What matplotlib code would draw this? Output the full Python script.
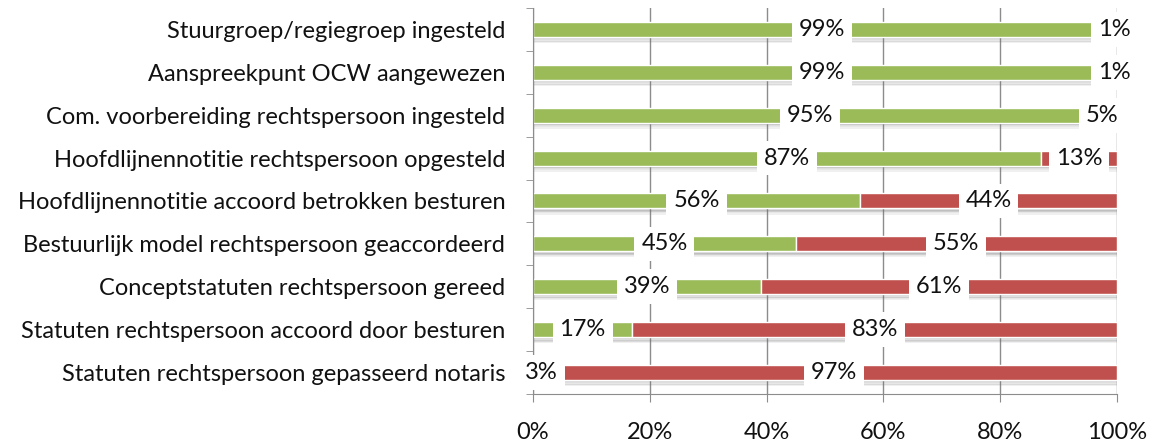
import numpy as np
import matplotlib
matplotlib.use("Agg")
import matplotlib.pyplot as plt

categories = [
    "Stuurgroep/regiegroep ingesteld",
    "Aanspreekpunt OCW aangewezen",
    "Com. voorbereiding rechtspersoon ingesteld",
    "Hoofdlijnennotitie rechtspersoon opgesteld",
    "Hoofdlijnennotitie accoord betrokken besturen",
    "Bestuurlijk model rechtspersoon geaccordeerd",
    "Conceptstatuten rechtspersoon gereed",
    "Statuten rechtspersoon accoord door besturen",
    "Statuten rechtspersoon gepasseerd notaris",
]
done = [99, 99, 95, 87, 56, 45, 39, 17, 3]
not_done = [1, 1, 5, 13, 44, 55, 61, 83, 97]
x_ticks = [0, 20, 40, 60, 80, 100]

GREEN = "#9BBB59"
RED = "#C0504D"
GRID = "#8C8C8C"
TXT = "#111111"

plt.rcParams["font.family"] = ["Lato", "DejaVu Sans"]

fig = plt.figure(figsize=(11.63, 4.46), dpi=100)
ax = fig.add_axes([0.4583, 0.1166, 0.5021, 0.8655])

y = np.arange(len(categories))
done = np.array(done)
not_done = np.array(not_done)
bar_h = 0.35

# soft shadow under each bar
for k in range(5):
    off = bar_h / 2 + 0.03 * k
    ax.barh(y + off, done + not_done, height=0.04, left=0, color="#6F6F6F",
            alpha=0.34 - 0.06 * k, linewidth=0, zorder=1.5)

ax.barh(y, done, height=bar_h, color=GREEN, edgecolor="white", linewidth=1, zorder=2)
ax.barh(y, not_done, height=bar_h, left=done, color=RED, edgecolor="white", linewidth=1, zorder=2)

box = dict(facecolor="white", edgecolor="none", pad=5)
for i in range(len(categories)):
    ax.text(done[i] / 2, y[i], f"{done[i]}%", ha="center", va="center", fontsize=17,
            color=TXT, bbox=box, zorder=4, clip_on=False)
    ax.text(done[i] + not_done[i] / 2, y[i], f"{not_done[i]}%", ha="center", va="center",
            fontsize=17, color=TXT, bbox=box, zorder=4, clip_on=False)

ax.set_xlim(0, 100)
ax.set_ylim(len(categories) - 0.5, -0.5)
ax.set_xticks(x_ticks)
ax.set_xticklabels([f"{t}%" for t in x_ticks], fontsize=17, color=TXT)
ax.set_yticks(y)
ax.set_yticklabels(categories, fontsize=17, color=TXT)
ax.set_yticks(np.arange(len(categories) + 1) - 0.5, minor=True)

ax.tick_params(axis="y", which="major", length=0, pad=20)
ax.tick_params(axis="y", which="minor", length=5, color=GRID, direction="out")
ax.tick_params(axis="x", which="major", length=6, color=GRID, direction="out", pad=14)

ax.grid(axis="x", color=GRID, linewidth=1, zorder=0)
ax.set_axisbelow(True)
for side in ["top", "right"]:
    ax.spines[side].set_visible(False)
ax.spines["left"].set_color(GRID)
ax.spines["bottom"].set_color(GRID)

plt.savefig("out.png", dpi=100)
plt.close()
